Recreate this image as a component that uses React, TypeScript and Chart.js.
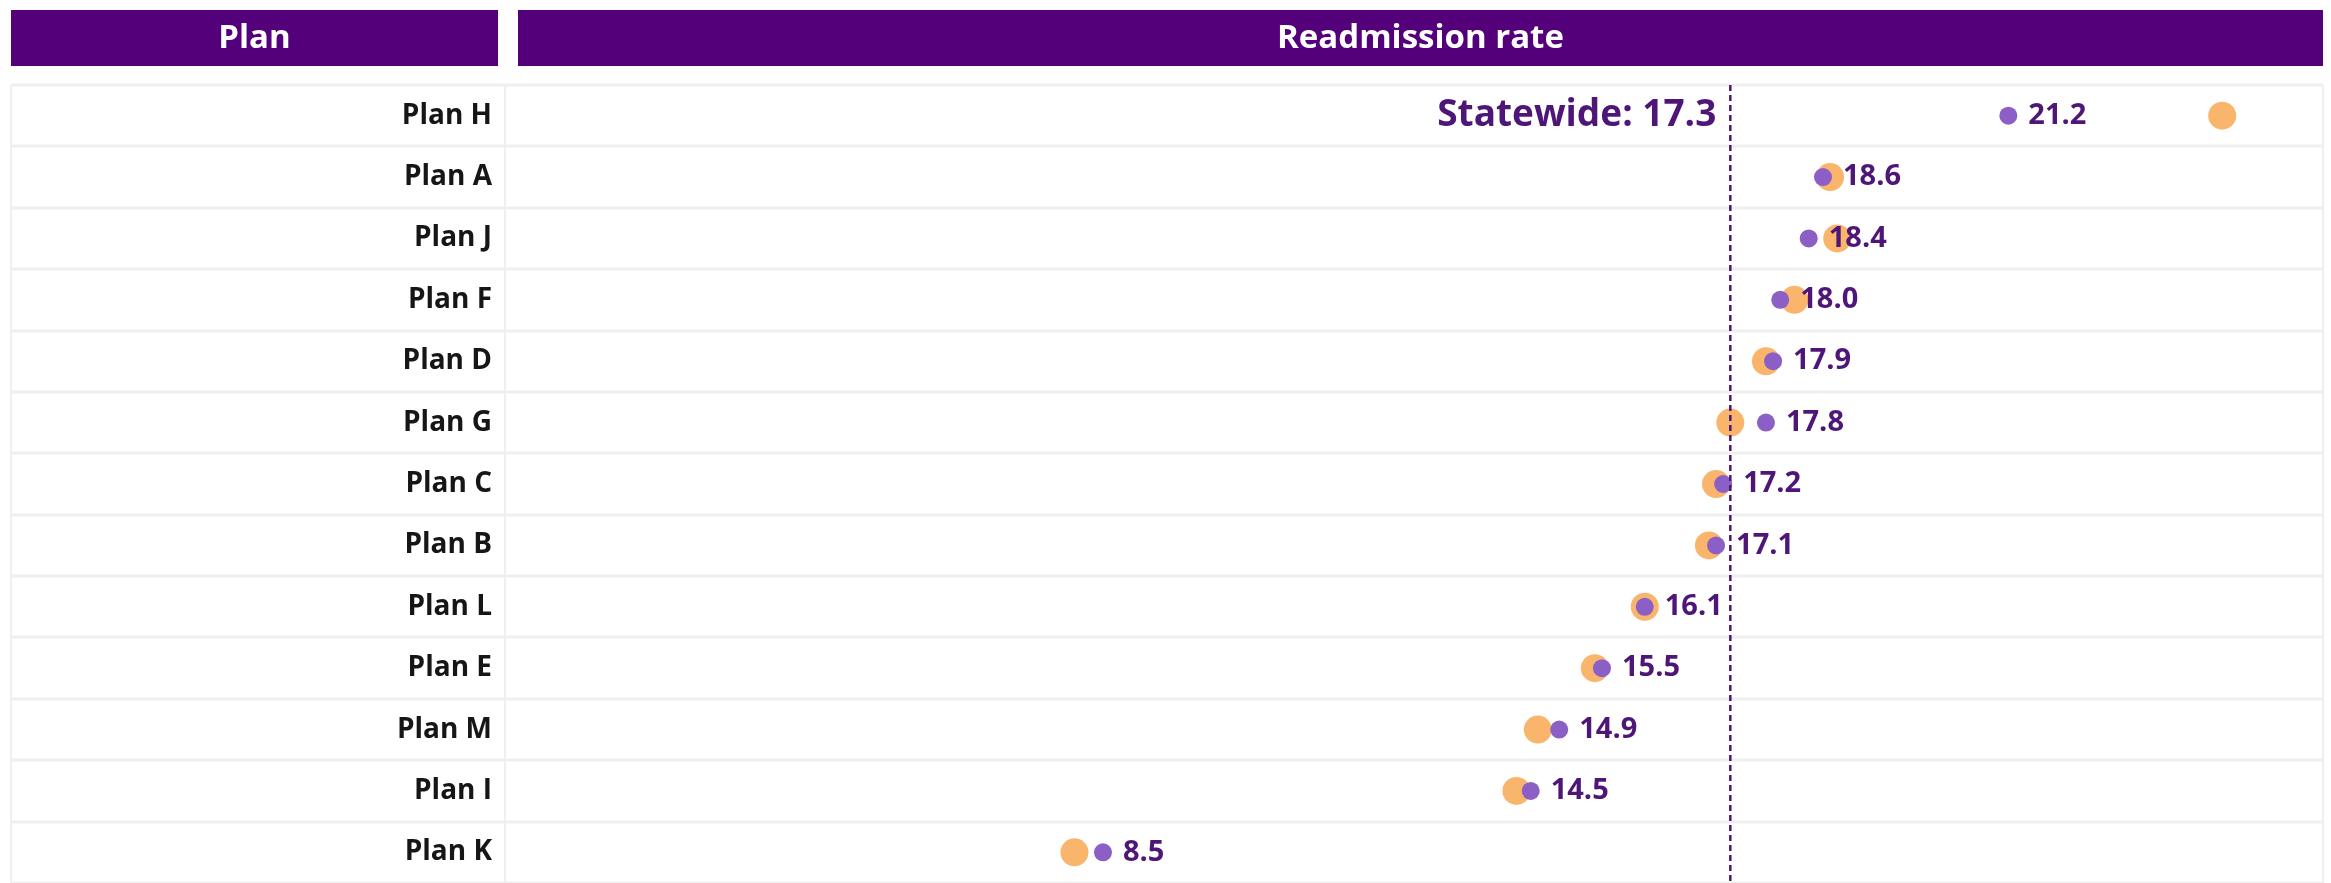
import React, { useEffect, useRef } from "react";
import { Chart, registerables } from "chart.js";

Chart.register(...registerables);

const plans = ["Plan H", "Plan A", "Plan J", "Plan F", "Plan D", "Plan G", "Plan C", "Plan B", "Plan L", "Plan E", "Plan M", "Plan I", "Plan K"];
const currentRates = [21.2, 18.6, 18.4, 18.0, 17.9, 17.8, 17.2, 17.1, 16.1, 15.5, 14.9, 14.5, 8.5];
const priorRates = [24.2, 18.7, 18.8, 18.2, 17.8, 17.3, 17.1, 17.0, 16.1, 15.4, 14.6, 14.3, 8.1];
const statewide = 17.3;
const headerLabels = ["Plan", "Readmission rate"];

const W = 2331;
const H = 883;
const FONT = "'Open Sans', Lato, sans-serif";
const HEADER_BG = "#55007b";
const TEXT_PURPLE = "#4e1677";
const SEP = "#efefef";

const decorPlugin = {
  id: "decor",
  beforeDraw(chart: any) {
    const ctx = chart.ctx;
    const y = chart.scales.y;
    ctx.save();
    ctx.fillStyle = "#ffffff";
    ctx.fillRect(0, 0, W, H);
    // headers
    ctx.fillStyle = HEADER_BG;
    ctx.fillRect(11, 10, 487, 56);
    ctx.fillRect(518, 10, 1805, 56);
    ctx.fillStyle = "#ffffff";
    ctx.font = `bold 33px ${FONT}`;
    ctx.textAlign = "center";
    ctx.textBaseline = "middle";
    ctx.fillText(headerLabels[0], (11 + 498) / 2, 39);
    ctx.fillText(headerLabels[1], (518 + 2323) / 2, 39);
    // row separators
    const band = (y.bottom - y.top) / plans.length;
    ctx.strokeStyle = SEP;
    ctx.lineWidth = 3;
    for (let i = 0; i <= plans.length; i++) {
      const yy = Math.round(y.top + i * band);
      ctx.beginPath();
      ctx.moveTo(11, yy);
      ctx.lineTo(2323, yy);
      ctx.stroke();
    }
    ctx.lineWidth = 2;
    [11, 505, 2323].forEach((xx) => {
      ctx.beginPath();
      ctx.moveTo(xx, y.top);
      ctx.lineTo(xx, H);
      ctx.stroke();
    });
    ctx.restore();
  },
  afterDatasetsDraw(chart: any) {
    const ctx = chart.ctx;
    const x = chart.scales.x;
    const y = chart.scales.y;
    ctx.save();
    // statewide reference line
    const sx = x.getPixelForValue(statewide);
    ctx.strokeStyle = "#4a1678";
    ctx.lineWidth = 2.5;
    ctx.setLineDash([6, 4]);
    ctx.beginPath();
    ctx.moveTo(sx, y.top);
    ctx.lineTo(sx, H);
    ctx.stroke();
    ctx.setLineDash([]);
    ctx.fillStyle = TEXT_PURPLE;
    ctx.font = `bold 37px ${FONT}`;
    ctx.textAlign = "right";
    ctx.textBaseline = "middle";
    ctx.fillText(`Statewide: ${statewide.toFixed(1)}`, sx - 14, y.getPixelForValue(0));
    // value labels
    const meta = chart.getDatasetMeta(0);
    ctx.font = `bold 29px ${FONT}`;
    ctx.textAlign = "left";
    meta.data.forEach((pt: any, i: number) => {
      ctx.fillText(currentRates[i].toFixed(1), pt.x + 20, pt.y);
    });
    ctx.restore();
  },
};

export default function App() {
  const ref = useRef<HTMLCanvasElement | null>(null);
  useEffect(() => {
    let chart: Chart | null = null;
    let cancelled = false;
    const make = () => {
      if (cancelled || !ref.current) return;
      chart = new Chart(ref.current, {
        type: "line",
        data: {
          labels: plans,
          datasets: [
            {
              label: "Current",
              data: currentRates,
              showLine: false,
              pointRadius: 9,
              pointBackgroundColor: "#8b5fc6",
              pointBorderWidth: 0,
              borderColor: "#8b5fc6",
            },
            {
              label: "Prior",
              data: priorRates,
              showLine: false,
              pointRadius: 14,
              pointBackgroundColor: "#fab56d",
              pointBorderWidth: 0,
              borderColor: "#fab56d",
            },
          ],
        },
        options: {
          indexAxis: "y",
          animation: false,
          responsive: false,
          events: [],
          layout: { autoPadding: false, padding: { left: 0, top: 85, right: 9, bottom: 0 } },
          plugins: { legend: { display: false }, tooltip: { enabled: false } },
          scales: {
            x: { type: "linear", min: 0.28, max: 25.6, display: false },
            y: {
              type: "category",
              offset: true,
              grid: { display: false, drawTicks: false },
              border: { display: false },
              ticks: {
                padding: 25,
                color: "#161616",
                font: { family: FONT, size: 28, weight: "bold" },
              },
              afterFit(scale: any) {
                scale.width = 517;
                scale.paddingTop = 0;
                scale.paddingBottom = 0;
              },
            },
          },
        },
        plugins: [decorPlugin],
      } as any);
    };
    const fontsReady = (document as any).fonts
      ? Promise.all([
          (document as any).fonts.load(`bold 28px 'Open Sans'`),
          (document as any).fonts.load(`bold 37px 'Open Sans'`),
        ]).catch(() => null)
      : Promise.resolve(null);
    fontsReady.then(make);
    return () => {
      cancelled = true;
      if (chart) chart.destroy();
    };
  }, []);
  return (
    <div style={{ position: "absolute", left: 0, top: 0, width: W, height: H, overflow: "hidden" }}>
      <canvas ref={ref} width={W} height={H} style={{ display: "block", width: W, height: H }} />
    </div>
  );
}
